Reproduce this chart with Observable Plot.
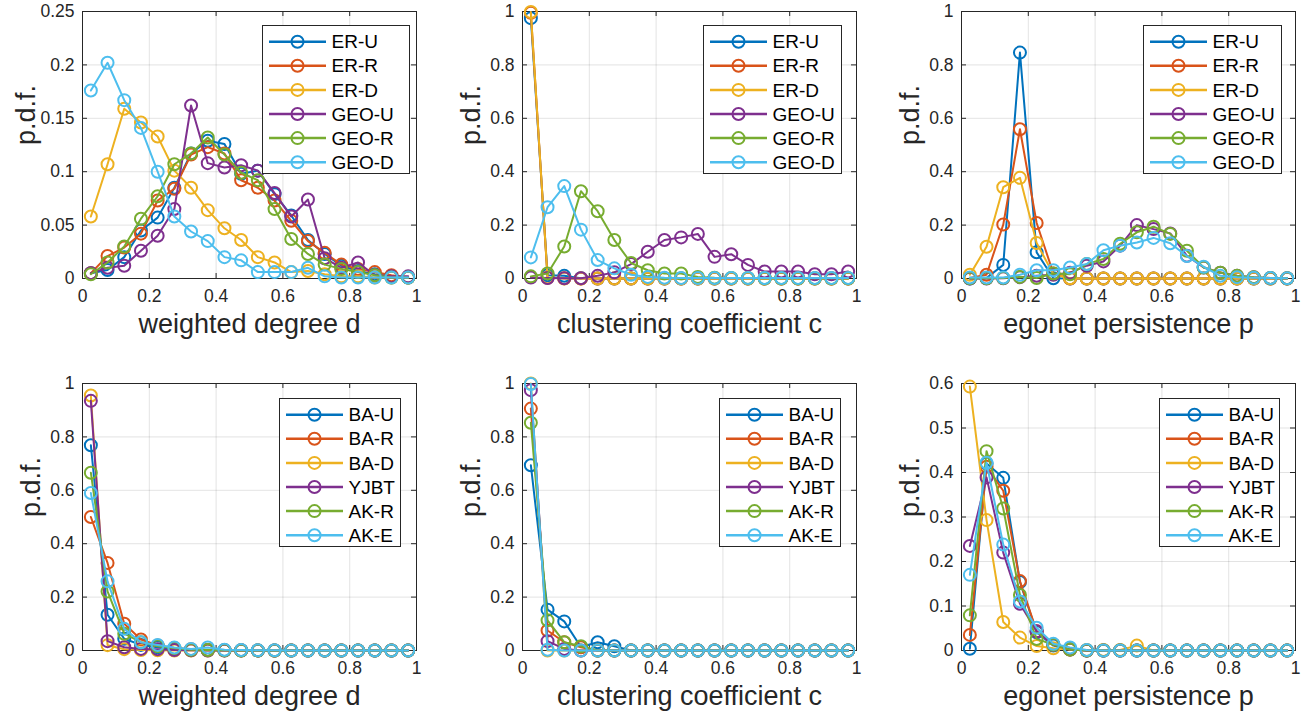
<!DOCTYPE html>
<html><head><meta charset="utf-8">
<script src="https://cdn.jsdelivr.net/npm/d3@7"></script>
<script src="https://cdn.jsdelivr.net/npm/@observablehq/plot@0.6"></script>
<style>
body{margin:0;background:#fff;}
#fig{position:relative;width:1308px;height:717px;font-family:"Liberation Sans",Arial,sans-serif;background:#fff;overflow:hidden;}
</style></head><body><div id="fig"></div>
<script>
// ---------- data ----------
const bins = [0.025,0.075,0.125,0.175,0.225,0.275,0.325,0.375,0.425,0.475,0.525,0.575,0.625,0.675,0.725,0.775,0.825,0.875,0.925,0.975];

const topNames = ["ER-U","ER-R","ER-D","GEO-U","GEO-R","GEO-D"];
const botNames = ["BA-U","BA-R","BA-D","YJBT","AK-R","AK-E"];
const colors = ["#0072BD","#D95319","#EDB120","#7E2F8E","#77AC30","#4DBEEE"];

const xLabels = ["weighted degree d","clustering coefficient c","egonet persistence p"];
const yLabel = "p.d.f.";

const xTicks = [0,0.2,0.4,0.6,0.8,1];
const xTickLabels = ["0","0.2","0.4","0.6","0.8","1"];
const yTicksDeg = [0,0.05,0.1,0.15,0.2,0.25];
const yTickLabelsDeg = ["0","0.05","0.1","0.15","0.2","0.25"];
const yTicksUnit = [0,0.2,0.4,0.6,0.8,1];
const yTickLabelsUnit = ["0","0.2","0.4","0.6","0.8","1"];
const yTicksEgo = [0,0.1,0.2,0.3,0.4,0.5,0.6];
const yTickLabelsEgo = ["0","0.1","0.2","0.3","0.4","0.5","0.6"];

// top row: weighted degree
const degER_U  = [0.005,0.008,0.020,0.045,0.057,0.085,0.117,0.129,0.126,0.098,0.101,0.079,0.059,0.036,0.023,0.012,0.007,0.004,0.002,0.001];
const degER_R  = [0.005,0.021,0.029,0.042,0.073,0.084,0.116,0.123,0.117,0.092,0.085,0.073,0.054,0.035,0.024,0.013,0.009,0.006,0.003,0.001];
const degER_D  = [0.058,0.107,0.159,0.146,0.133,0.101,0.085,0.064,0.047,0.036,0.020,0.015,0.006,0.007,0.004,0.002,0.002,0.001,0.001,0.001];
const degGEO_U = [0.005,0.010,0.012,0.026,0.040,0.065,0.162,0.108,0.104,0.106,0.101,0.080,0.058,0.074,0.019,0.010,0.015,0.003,0.002,0.002];
const degGEO_R = [0.004,0.015,0.030,0.056,0.077,0.107,0.117,0.132,0.116,0.099,0.092,0.065,0.037,0.023,0.013,0.009,0.006,0.003,0.001,0.001];
const degGEO_D = [0.176,0.202,0.167,0.141,0.100,0.058,0.044,0.035,0.020,0.017,0.006,0.006,0.006,0.010,0.002,0.001,0.001,0.001,0.001,0.001];

// top row: clustering coefficient
const cluER_U  = [0.975,0.012,0.010,0.001,0,0,0,0,0,0,0,0,0,0,0,0,0,0,0,0];
const cluER_R  = [0.995,0.003,0.001,0,0,0,0,0,0,0,0,0,0,0,0,0,0,0,0,0];
const cluER_D  = [0.998,0.004,0,0,0,0,0,0,0,0,0,0,0,0,0,0,0,0,0,0];
const cluGEO_U = [0.004,0.002,0.001,0.001,0.010,0.023,0.054,0.100,0.144,0.154,0.167,0.081,0.091,0.051,0.026,0.026,0.026,0.016,0.016,0.026];
const cluGEO_R = [0.008,0.019,0.120,0.327,0.252,0.144,0.058,0.031,0.019,0.019,0.006,0.003,0.002,0.002,0.001,0.001,0.001,0.001,0.001,0.001];
const cluGEO_D = [0.079,0.267,0.346,0.183,0.069,0.038,0.014,0.006,0.003,0.002,0.002,0.002,0.002,0.002,0.002,0.002,0.002,0.002,0.002,0.002];

// top row: egonet persistence
const egoER_U  = [0,0.002,0.051,0.846,0.098,0.001,0,0,0,0,0,0,0,0,0,0,0,0,0,0];
const egoER_R  = [0.002,0.014,0.202,0.559,0.208,0.019,0,0,0,0,0,0,0,0,0,0,0,0,0,0];
const egoER_D  = [0.014,0.119,0.342,0.377,0.133,0.016,0.001,0,0,0,0,0,0,0,0,0,0,0,0,0];
const egoGEO_U = [0,0,0.001,0.005,0.010,0.014,0.022,0.048,0.064,0.123,0.200,0.185,0.169,0.085,0.041,0.022,0.010,0.005,0.002,0.001];
const egoGEO_R = [0.001,0.001,0.002,0.006,0.002,0.019,0.016,0.054,0.073,0.130,0.173,0.194,0.167,0.104,0.041,0.022,0.010,0.005,0.002,0.001];
const egoGEO_D = [0.004,0.004,0.004,0.014,0.031,0.031,0.041,0.054,0.106,0.123,0.135,0.152,0.132,0.084,0.044,0.010,0.005,0.003,0.002,0.001];

// bottom row: weighted degree
const bdegBA_U = [0.769,0.134,0.044,0.021,0.012,0.005,0.003,0.002,0.001,0.001,0,0,0,0,0,0,0,0,0,0];
const bdegBA_R = [0.500,0.328,0.100,0.041,0.019,0.009,0.005,0.002,0.001,0.001,0,0,0,0,0,0,0,0,0,0];
const bdegBA_D = [0.955,0.020,0.005,0.002,0.001,0,0,0,0,0,0,0,0,0,0,0,0,0,0,0];
const bdegYJBT = [0.935,0.035,0.012,0.006,0.005,0.002,0.001,0,0,0,0,0,0,0,0,0,0,0,0,0];
const bdegAK_R = [0.666,0.221,0.063,0.031,0.016,0.009,0.003,0.002,0.001,0,0,0,0,0,0,0,0,0,0,0];
const bdegAK_E = [0.590,0.259,0.081,0.031,0.021,0.011,0.006,0.011,0.003,0.002,0.001,0.001,0,0,0,0,0,0,0,0];

// bottom row: clustering coefficient
const bcluBA_U = [0.694,0.153,0.109,0.013,0.031,0.016,0,0,0,0,0,0,0,0,0,0,0,0,0,0];
const bcluBA_R = [0.906,0.075,0.031,0.012,0,0,0,0,0,0,0,0,0,0,0,0,0,0,0,0];
const bcluBA_D = [1.0,0,0,0,0,0,0,0,0,0,0,0,0,0,0,0,0,0,0,0];
const bcluYJBT = [0.975,0.035,0.006,0,0,0,0,0,0,0,0,0,0,0,0,0,0,0,0,0];
const bcluAK_R = [0.853,0.113,0.031,0.016,0,0,0,0,0,0,0,0,0,0,0,0,0,0,0,0];
const bcluAK_E = [0.998,0.003,0,0,0,0,0,0,0,0,0,0,0,0,0,0,0,0,0,0];

// bottom row: egonet persistence
const begoBA_U = [0.004,0.420,0.388,0.154,0.041,0.011,0.003,0,0,0,0,0,0,0,0,0,0,0,0,0];
const begoBA_R = [0.035,0.413,0.359,0.156,0.043,0.013,0.002,0,0,0,0,0,0,0,0,0,0,0,0,0];
const begoBA_D = [0.593,0.293,0.064,0.029,0.010,0.005,0.002,0.001,0.001,0.001,0.011,0,0,0,0,0,0,0,0,0];
const begoYJBT = [0.235,0.389,0.220,0.105,0.043,0.013,0.002,0,0,0,0,0,0,0,0,0,0,0,0,0];
const begoAK_R = [0.079,0.448,0.319,0.125,0.026,0.013,0.002,0,0,0,0,0,0,0,0,0,0,0,0,0];
const begoAK_E = [0.170,0.422,0.238,0.110,0.051,0.015,0.007,0.001,0,0,0,0,0,0,0,0,0,0,0,0];

// ---------- layout ----------
const FW = 334, FH = 267;               // plot frame size
const ML = 82, MR = 10, MT = 11, MB = 66;
const colLeft = [82, 522, 961];
const rowTop = [11, 383];
const FONT = "Liberation Sans, Arial, sans-serif";
const INK = "#262626";

const panels = [
  {row:0,col:0,names:topNames,series:[degER_U,degER_R,degER_D,degGEO_U,degGEO_R,degGEO_D],yMax:0.25,yT:yTicksDeg,yL:yTickLabelsDeg,ylab:-48,leg:{x:262,w:148}},
  {row:0,col:1,names:topNames,series:[cluER_U,cluER_R,cluER_D,cluGEO_U,cluGEO_R,cluGEO_D],yMax:1,yT:yTicksUnit,yL:yTickLabelsUnit,ylab:-43,leg:{x:703,w:139}},
  {row:0,col:2,names:topNames,series:[egoER_U,egoER_R,egoER_D,egoGEO_U,egoGEO_R,egoGEO_D],yMax:1,yT:yTicksUnit,yL:yTickLabelsUnit,ylab:-43,leg:{x:1143,w:139}},
  {row:1,col:0,names:botNames,series:[bdegBA_U,bdegBA_R,bdegBA_D,bdegYJBT,bdegAK_R,bdegAK_E],yMax:1,yT:yTicksUnit,yL:yTickLabelsUnit,ylab:-43,leg:{x:279,w:122}},
  {row:1,col:1,names:botNames,series:[bcluBA_U,bcluBA_R,bcluBA_D,bcluYJBT,bcluAK_R,bcluAK_E],yMax:1,yT:yTicksUnit,yL:yTickLabelsUnit,ylab:-43,leg:{x:719,w:122}},
  {row:1,col:2,names:botNames,series:[begoBA_U,begoBA_R,begoBA_D,begoYJBT,begoAK_R,begoAK_E],yMax:0.6,yT:yTicksEgo,yL:yTickLabelsEgo,ylab:-43,leg:{x:1159,w:121}}
];

const fig = document.getElementById("fig");

for (const p of panels) {
  const marks = [];
  // grid
  marks.push(Plot.ruleX(xTicks, {x: d => d, stroke: INK, strokeOpacity: 0.13, strokeWidth: 1}));
  marks.push(Plot.ruleY(p.yT, {y: d => d, stroke: INK, strokeOpacity: 0.13, strokeWidth: 1}));
  // inward ticks on all four sides
  marks.push(Plot.ruleX(xTicks, {x: d => d, insetTop: FH - 5, stroke: INK, strokeWidth: 1}));
  marks.push(Plot.ruleX(xTicks, {x: d => d, insetBottom: FH - 5, stroke: INK, strokeWidth: 1}));
  marks.push(Plot.ruleY(p.yT, {y: d => d, insetRight: FW - 5, stroke: INK, strokeWidth: 1}));
  marks.push(Plot.ruleY(p.yT, {y: d => d, insetLeft: FW - 5, stroke: INK, strokeWidth: 1}));
  marks.push(Plot.frame({stroke: INK, strokeWidth: 1}));
  // series
  p.series.forEach((vals, si) => {
    const rows = vals.map((v, i) => ({x: bins[i], y: v, s: p.names[si]}));
    marks.push(Plot.line(rows, {x: "x", y: "y", stroke: colors[si], strokeWidth: 2}));
    marks.push(Plot.dot(rows, {x: "x", y: "y", r: 6, stroke: colors[si], strokeWidth: 2, fill: "none"}));
  });
  // axes
  marks.push(Plot.axisX(xTicks, {tickSize: 0, tickPadding: 11, fontSize: 17.5, fill: INK, label: null,
    tickFormat: d => xTickLabels[xTicks.indexOf(d)]}));
  marks.push(Plot.axisY(p.yT, {tickSize: 0, tickPadding: 8, fontSize: 17.5, fill: INK, label: null,
    tickFormat: d => p.yL[p.yT.indexOf(d)]}));
  // axis titles
  marks.push(Plot.text([xLabels[p.col]], {text: d => d, frameAnchor: "bottom", dy: 54, lineAnchor: "bottom", fontSize: 27, fill: INK}));
  marks.push(Plot.text([yLabel], {text: d => d, frameAnchor: "left", rotate: -90, dx: p.ylab, lineAnchor: "bottom", fontSize: 27, fill: INK}));

  const chart = Plot.plot({
    width: FW + ML + MR, height: FH + MT + MB,
    marginLeft: ML, marginRight: MR, marginTop: MT, marginBottom: MB,
    x: {domain: [0, 1]},
    y: {domain: [0, p.yMax]},
    style: {fontFamily: FONT, fontSize: "17.5px", color: INK, background: "transparent", overflow: "visible"},
    marks
  });
  chart.style.position = "absolute";
  chart.style.left = (colLeft[p.col] - ML) + "px";
  chart.style.top = (rowTop[p.row] - MT) + "px";
  fig.appendChild(chart);

  // legend box (drawn on top, like MATLAB)
  const LH = 149;
  const lg = d3.create("svg")
    .attr("width", p.leg.w).attr("height", LH)
    .style("position", "absolute")
    .style("left", p.leg.x + "px")
    .style("top", (p.row === 0 ? 25 : 398) + "px")
    .style("font-family", FONT);
  lg.append("rect").attr("x", 0.5).attr("y", 0.5).attr("width", p.leg.w - 1).attr("height", LH - 1)
    .attr("fill", "white").attr("stroke", INK).attr("stroke-width", 1);
  p.names.forEach((n, i) => {
    const cy = 16.7 + i * 24.1;
    lg.append("line").attr("x1", 7).attr("x2", 64).attr("y1", cy).attr("y2", cy)
      .attr("stroke", colors[i]).attr("stroke-width", 2.5);
    lg.append("circle").attr("cx", 35.5).attr("cy", cy).attr("r", 6)
      .attr("fill", "none").attr("stroke", colors[i]).attr("stroke-width", 2);
    lg.append("text").attr("x", 69.5).attr("y", cy).attr("dy", "0.35em")
      .attr("font-size", 19).attr("fill", "#000").text(n);
  });
  fig.appendChild(lg.node());
}
</script></body></html>
